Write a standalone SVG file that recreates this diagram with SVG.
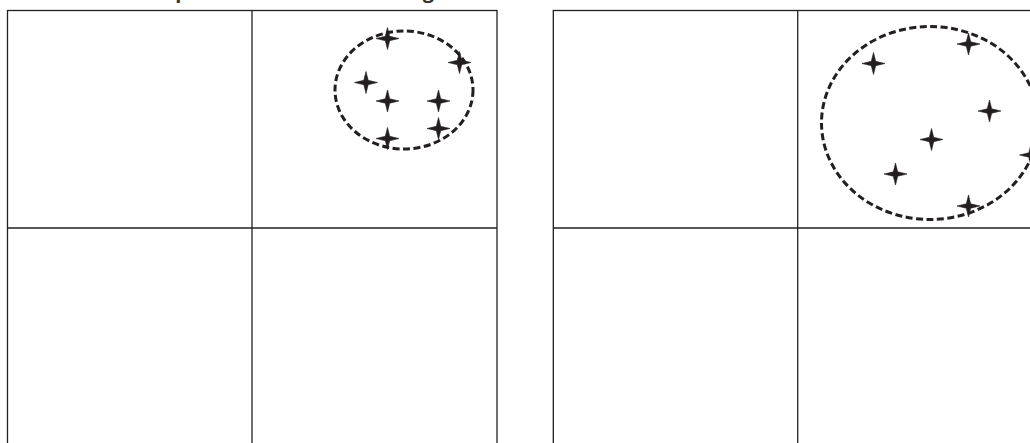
<svg xmlns="http://www.w3.org/2000/svg" width="1030" height="443" viewBox="0 0 1030 443">
  <style>
    .frame { fill: none; stroke: #231f20; stroke-width: 1.3; }
    .cluster { fill: none; stroke: #231f20; stroke-width: 3; stroke-dasharray: 7 3.5; }
    .star { fill: #231f20; stroke: #231f20; stroke-width: 0.6; stroke-linejoin: round; }
    .title { font-family: "Open Sans", "Liberation Sans", sans-serif; font-weight: bold; font-size: 20px; fill: #333; }
  </style>
  <defs>
    <path id="star" d="M0,-11 L2.2,-2.2 L11.5,0 L2.2,2.2 L0,11 L-2.2,2.2 L-11.5,0 L-2.2,-2.2 Z"/>
  </defs>
  <rect width="1030" height="443" fill="#fff"/>

  <g id="title">
    <text class="title" x="132.5" y="-2">Sample</text>
    <text class="title" x="434" y="-2" text-anchor="end">with weak clustering</text>
  </g>

  <g id="panel-left">
    <rect class="frame" x="7.5" y="10.5" width="489.5" height="440"/>
    <line class="frame" x1="252" y1="10.5" x2="252" y2="450"/>
    <line class="frame" x1="7.5" y1="228" x2="497" y2="228"/>
    <ellipse class="cluster" cx="404" cy="90" rx="69" ry="59"/>
    <g class="star">
      <use href="#star" x="387.5" y="38.5"/>
      <use href="#star" x="459.5" y="62.5"/>
      <use href="#star" x="366" y="82.5"/>
      <use href="#star" x="387.5" y="101"/>
      <use href="#star" x="438.5" y="101"/>
      <use href="#star" x="438.5" y="128.5"/>
      <use href="#star" x="387.5" y="138.5"/>
    </g>
  </g>

  <g id="panel-right">
    <rect class="frame" x="553.3" y="10.5" width="489.5" height="440"/>
    <line class="frame" x1="797.7" y1="10.5" x2="797.7" y2="450"/>
    <line class="frame" x1="553.3" y1="228" x2="1043" y2="228"/>
    <ellipse class="cluster" cx="930" cy="123" rx="108.5" ry="96.5"/>
    <g class="star">
      <use href="#star" x="873.5" y="63.5"/>
      <use href="#star" x="968.5" y="44"/>
      <use href="#star" x="989.5" y="111"/>
      <use href="#star" x="931.5" y="139.5"/>
      <use href="#star" x="895.5" y="174"/>
      <use href="#star" x="968.5" y="206"/>
      <use href="#star" x="1031" y="155"/>
    </g>
  </g>
</svg>
